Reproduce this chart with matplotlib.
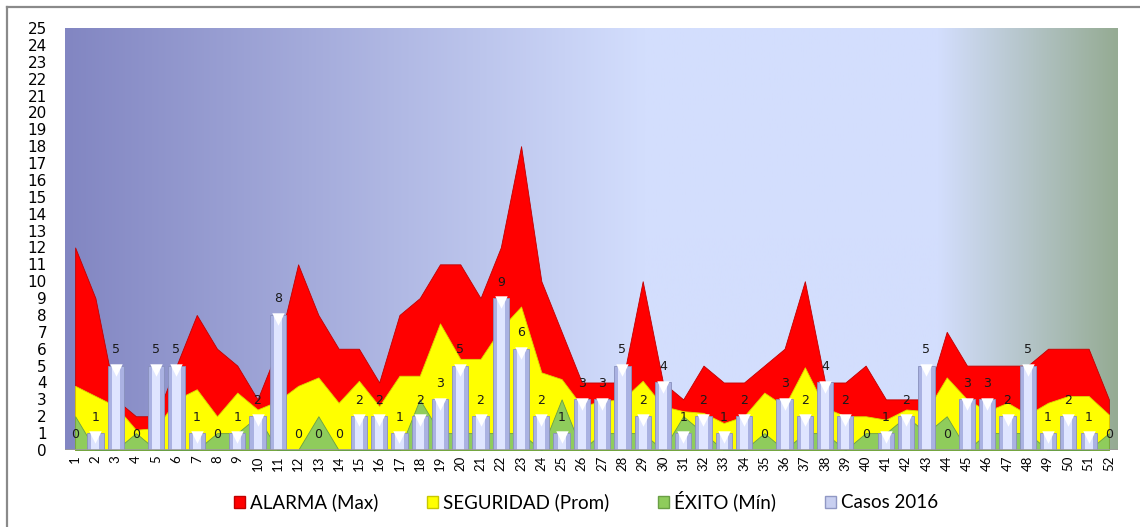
import numpy as np
import matplotlib
matplotlib.use("Agg")
import matplotlib.pyplot as plt
from matplotlib.patches import Patch
from matplotlib.lines import Line2D
from matplotlib.colors import to_rgb

# ==========================================
# Data
# ==========================================
semanas = list(range(1, 53))

alarma_max = [12, 9, 3, 2, 2, 5, 8, 6, 5, 3, 6, 11, 8, 6, 6, 4, 8, 9, 11, 11,
              9, 12, 18, 10, 7, 4, 4, 4, 10, 4, 3, 5, 4, 4, 5, 6, 10, 4, 4, 5,
              3, 3, 3, 7, 5, 5, 5, 5, 6, 6, 6, 3]

seguridad_prom = [3.8, 3.2, 2.6, 1.2, 1.3, 3.0, 3.6, 2.0, 3.4, 2.4, 2.9, 3.8, 4.3,
                  2.8, 4.1, 2.6, 4.4, 4.4, 7.5, 5.4, 5.4, 7.2, 8.5, 4.6, 4.2, 2.6,
                  2.9, 3.0, 4.1, 2.6, 2.3, 2.2, 1.6, 2.0, 3.4, 2.6, 4.9, 2.5, 2.0,
                  2.0, 1.8, 2.4, 2.3, 4.3, 3.0, 2.3, 2.8, 2.1, 2.8, 3.2, 3.2, 2.1]

exito_min = [2, 0, 0, 1, 0, 0, 0, 1, 1, 2, 0, 0, 2, 0, 0, 0, 0, 3, 1, 1,
             1, 1, 1, 0, 3, 0, 1, 1, 1, 0, 2, 1, 0, 0, 1, 0, 1, 1, 0, 1,
             1, 2, 1, 2, 0, 1, 1, 1, 0, 0, 0, 1]

casos_2016 = [0, 1, 5, 0, 5, 5, 1, 0, 1, 2, 8, 0, 0, 0, 2, 2, 1, 2, 3, 5,
              2, 9, 6, 2, 1, 3, 3, 5, 2, 4, 1, 2, 1, 2, 0, 3, 2, 4, 2, 0,
              1, 2, 5, 0, 3, 3, 2, 5, 1, 2, 1, 0]

etiquetas = ['ALARMA (Max)', 'SEGURIDAD (Prom)', 'ÉXITO (Mín)', 'Casos 2016']

# ==========================================
# Figure
# ==========================================
fig = plt.figure(figsize=(11.4, 5.27), dpi=100, facecolor='white')
ax = fig.add_axes([65 / 1140, 1 - 450 / 527, (1118 - 65) / 1140, (450 - 28) / 527])

# background gradient (left lavender -> light blue -> greyish green)
stops = [0.0, 0.55, 0.83, 1.0]
cols = [to_rgb(c) for c in ['#8286c2', '#d3defd', '#d3defd', '#95ab93']]
t = np.linspace(0, 1, 400)
grad = np.zeros((1, len(t), 3))
for ch in range(3):
    grad[0, :, ch] = np.interp(t, stops, [c[ch] for c in cols])
ax.imshow(grad, extent=[0, 1, 0, 1], transform=ax.transAxes,
          aspect='auto', zorder=0)

x = np.array(semanas)

# overlapping areas
ax.fill_between(x, alarma_max, color='#ff0000', edgecolor='#c00000',
                linewidth=0.6, zorder=1)
ax.fill_between(x, seguridad_prom, color='#ffff00', edgecolor='#d8d800',
                linewidth=0.6, zorder=2)
ax.fill_between(x, exito_min, color='#8fcc5c', edgecolor='#6a9f45',
                linewidth=0.6, zorder=3)

# bars with a simple cylinder look
ax.bar(x, casos_2016, width=0.8, color='#aab2e2', edgecolor='#8890bc',
       linewidth=0.6, zorder=4)
ax.bar(x, casos_2016, width=0.4, color='#dfe5ff', linewidth=0, zorder=4.1)
tops = [(xi, v) for xi, v in zip(x, casos_2016) if v > 0]
ax.scatter([p[0] for p in tops], [p[1] - 0.25 for p in tops], marker='v',
           s=80, color='white', linewidths=0, zorder=4.2)

for xi, v in zip(x, casos_2016):
    ax.annotate(str(v), (xi, v), xytext=(0, 11.5), textcoords='offset points',
                ha='center', va='center', fontsize=9, color='#1a1a1a',
                zorder=5)

ax.axhline(0, color='#9a9a9a', linewidth=1.2, zorder=4.5)

ax.set_xlim(0.5, 52.45)
ax.set_ylim(0, 25)
ax.set_yticks(range(0, 26))
ax.set_xticks(x)
ax.set_xticklabels([str(s) for s in semanas], rotation=90, fontsize=9.5,
                   family='Lato')
ax.tick_params(axis='y', length=0, pad=13, labelsize=11)
ax.tick_params(axis='x', length=0, pad=4)
for sp in ax.spines.values():
    sp.set_visible(False)

# legend at the bottom
handles = [Patch(facecolor='#ff0000', edgecolor='#c00000'),
           Patch(facecolor='#ffff00', edgecolor='#c8c800'),
           Patch(facecolor='#8fcc5c', edgecolor='#6a9f45'),
           Patch(facecolor='#c8cff0', edgecolor='#9098c4')]
fig.legend(handles, etiquetas, loc='center', bbox_to_anchor=(586 / 1140, 1 - 501 / 527),
           ncol=4, frameon=False, handlelength=0.6, handleheight=0.6,
           handletextpad=0.25, columnspacing=2.6, prop={'family': 'Lato', 'size': 13.5})

# outer chart frame (top and left visible)
fig.add_artist(Line2D([7 / 1140, 1], [1 - 7 / 527, 1 - 7 / 527],
                      transform=fig.transFigure, color='#8a8a8a', linewidth=1.6))
fig.add_artist(Line2D([7 / 1140, 7 / 1140], [0, 1 - 7 / 527],
                      transform=fig.transFigure, color='#8a8a8a', linewidth=1.6))

fig.savefig('out.png', dpi=100, facecolor='white')
